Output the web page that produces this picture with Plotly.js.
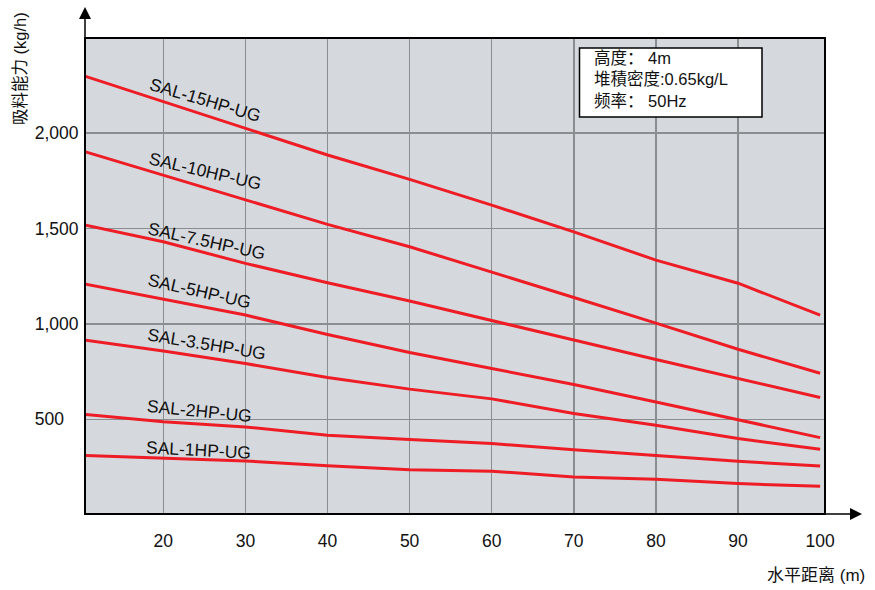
<!DOCTYPE html>
<html>
<head>
<meta charset="utf-8">
<script src="https://cdn.plot.ly/plotly-3.0.1.min.js"></script>
<style>html,body{margin:0;padding:0;background:#fff;}#chart{width:875px;height:590px;}</style>
</head>
<body>
<div id="chart"></div>
<script>
// ---- data ----
const distances = [10, 20, 30, 40, 50, 60, 70, 80, 90, 100];
const seriesNames = ["SAL-15HP-UG", "SAL-10HP-UG", "SAL-7.5HP-UG", "SAL-5HP-UG", "SAL-3.5HP-UG", "SAL-2HP-UG", "SAL-1HP-UG"];
const sal15 = [2304, 2165, 2026, 1885, 1757, 1622, 1482, 1334, 1213, 1046];
const sal10 = [1908, 1779, 1651, 1521, 1404, 1273, 1138, 1004, 867, 741];
const sal75 = [1522, 1430, 1317, 1215, 1120, 1016, 915, 813, 714, 614];
const sal5  = [1212, 1129, 1046, 944, 850, 766, 682, 591, 499, 404];
const sal35 = [918, 858, 792, 719, 658, 607, 530, 469, 399, 343];
const sal2  = [528, 487, 460, 416, 394, 373, 341, 311, 280, 255];
const sal1  = [311, 297, 282, 257, 236, 228, 198, 186, 163, 149];
const xTickVals = [20, 30, 40, 50, 60, 70, 80, 90, 100];
const yTickVals = [500, 1000, 1500, 2000];
const yTickText = ["500\u00a0\u00a0\u00a0", "1,000", "1,500", "2,000"];
const infoLines = ["高度：\u00a04m", "堆積密度:0.65kg/L", "频率：\u00a050Hz"];
const xTitle = "水平距离 (m)";
const yTitle = "吸料能力 (kg/h)";

// ---- styling / layout ----
const FONT = "'Liberation Sans', Arial, 'Noto Sans CJK SC', sans-serif";
const RED = "#ee1c25";
const L = 86, R = 824, T = 39, B = 513;
const W = 875, H = 590;
const px = x => (x - L) / (R - L);
const py = y => (B - y) / (B - T);

const allSeries = [sal15, sal10, sal75, sal5, sal35, sal2, sal1];
const traces = allSeries.map((ys, i) => ({
  type: "scatter", mode: "lines", name: seriesNames[i],
  x: distances, y: ys,
  xaxis: i === allSeries.length - 1 ? "x2" : "x", yaxis: "y",
  line: {color: RED, width: 3}, hoverinfo: "skip", showlegend: false
}));

// label placements (pixel centre, angle)
const labelPos = [
  [205, 99.5, 16.5], [205, 170.5, 13.1], [206.5, 240.5, 12.4], [199, 291, 12.8],
  [206.5, 343.6, 9.3], [199.5, 410.5, 5.6], [198, 449.7, 3.0]
];
const annotations = seriesNames.map((n, i) => ({
  xref: "paper", yref: "paper", x: px(labelPos[i][0]), y: py(labelPos[i][1]),
  xanchor: "center", yanchor: "middle", text: n, showarrow: false,
  textangle: labelPos[i][2], font: {family: FONT, size: 17.5, color: "#111"}
}));
annotations.push({
  xref: "paper", yref: "paper", x: px(592), y: py(79.5), xanchor: "left", yanchor: "middle",
  align: "left", text: infoLines.join("<br>"), showarrow: false,
  font: {family: FONT, size: 16.5, color: "#111"}
});
annotations.push({
  xref: "paper", yref: "paper", x: px(20.5), y: py(68.5), xanchor: "center", yanchor: "middle",
  text: yTitle, textangle: -90, showarrow: false, font: {family: FONT, size: 16.5, color: "#111"}
});
annotations.push({
  xref: "paper", yref: "paper", x: px(816), y: py(575), xanchor: "center", yanchor: "middle",
  text: xTitle, showarrow: false, font: {family: FONT, size: 17, color: "#111"}
});
// axis arrows
annotations.push({
  xref: "paper", yref: "paper", x: px(L - 1), y: py(7), ax: 0, ay: 40, axref: "pixel", ayref: "pixel",
  text: "", showarrow: true, arrowhead: 2, arrowsize: 1.6, arrowwidth: 1.5, arrowcolor: "#000", standoff: 0
});
annotations.push({
  xref: "paper", yref: "paper", x: px(862), y: py(B + 1), ax: -50, ay: 0, axref: "pixel", ayref: "pixel",
  text: "", showarrow: true, arrowhead: 2, arrowsize: 1.6, arrowwidth: 1.5, arrowcolor: "#000", standoff: 0
});

const xRange = [10.585, 100.47];
const layout = {
  width: W, height: H,
  margin: {l: L, r: W - R, t: T, b: H - B, pad: 0},
  paper_bgcolor: "#fff", plot_bgcolor: "#d5d8dc",
  font: {family: FONT, size: 17.5, color: "#111"},
  xaxis: {
    range: xRange, tickvals: xTickVals.slice(0, -1), showticklabels: false,
    showgrid: true, gridcolor: "#8b8e91", gridwidth: 1.5, zeroline: false,
    showline: true, linecolor: "#000", linewidth: 2, mirror: true, ticks: ""
  },
  xaxis2: {
    range: xRange, overlaying: "x", anchor: "y", side: "bottom", tickvals: xTickVals,
    showgrid: false, zeroline: false, showline: false, ticks: "",
    tickfont: {family: FONT, size: 17.5, color: "#111"}, ticklabelstandoff: 15
  },
  yaxis: {
    range: [9, 2492.5], tickvals: yTickVals, ticktext: yTickText,
    showgrid: true, gridcolor: "#8b8e91", gridwidth: 1.5, zeroline: false,
    showline: true, linecolor: "#000", linewidth: 2, mirror: true, ticks: "",
    tickfont: {family: FONT, size: 17.5, color: "#111"}, ticklabelstandoff: 2
  },
  shapes: [{
    type: "rect", xref: "paper", yref: "paper", layer: "above",
    x0: px(579.5), x1: px(762), y0: py(48), y1: py(117),
    fillcolor: "#fff", line: {color: "#000", width: 1.5}
  }],
  annotations: annotations
};

Plotly.newPlot("chart", traces, layout, {displayModeBar: false, staticPlot: true});
</script>
</body>
</html>
